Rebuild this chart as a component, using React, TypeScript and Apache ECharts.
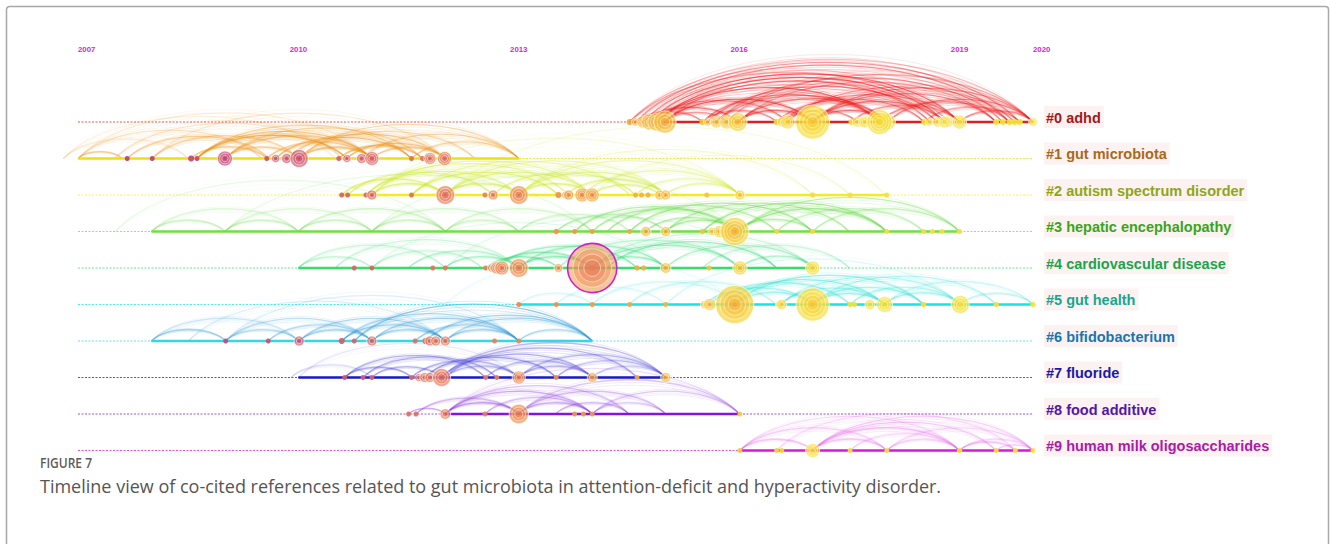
import React, { useEffect, useRef } from "react";
import * as echarts from "echarts";

// ---- axis ----
const yearMin = 2007;
const yearMax = 2020;
const yearLabels = [2007, 2010, 2013, 2016, 2019, 2020];

// ---- clusters ----
const clusterNames = [
  "#0 adhd",
  "#1 gut microbiota",
  "#2 autism spectrum disorder",
  "#3 hepatic encephalopathy",
  "#4 cardiovascular disease",
  "#5 gut health",
  "#6 bifidobacterium",
  "#7 fluoride",
  "#8 food additive",
  "#9 human milk oligosaccharides",
];
const clusterLabelColors = [
  "#a31818", "#a8691a", "#8fa618", "#36a618", "#18a64a",
  "#18a690", "#1876b0", "#1a1aa6", "#5018a8", "#ad18ad",
];
const timelineColors = [
  "#e01f1f", "#f2dc12", "#f4ec1c", "#6ee23c", "#36dd68",
  "#14e6e0", "#36d6e6", "#1818c8", "#8a12dc", "#e012e0",
];
const linkColors = [
  "#ee1a1a", "#ee9014", "#cbe81a", "#5ed83c", "#2ed872",
  "#2ee0d2", "#2c9ad8", "#4a40d8", "#8c3ae0", "#e45ee8",
];

// active span of each cluster: [start year, end year]
const clusterSpans: [number, number][] = [
  [2014.5, 2020.0],
  [2007.0, 2013.0],
  [2010.55, 2018.0],
  [2008.0, 2019.0],
  [2010.0, 2017.05],
  [2013.0, 2020.0],
  [2008.0, 2014.0],
  [2010.0, 2015.0],
  [2012.0, 2016.0],
  [2016.0, 2020.0],
];

// ---- cited references: [publication year, citation count] ----
const nodesC0 = [
  [2014.51, 1.5], [2014.59, 2.6], [2014.69, 5.8], [2014.78, 10], [2014.88, 13], [2014.99, 20],
  [2015.5, 1.5], [2015.57, 2.6], [2015.69, 5.8], [2015.83, 7.8], [2015.98, 14],
  [2016.51, 1.5], [2016.59, 4], [2016.66, 7.8], [2017.0, 46],
  [2017.53, 1.5], [2017.61, 4], [2017.71, 5.8], [2017.91, 25], [2018.02, 10],
  [2018.52, 1.5], [2018.59, 2.6], [2018.7, 4], [2018.8, 5.8], [2018.86, 4], [2019.0, 8],
  [2019.5, 1.5], [2019.59, 1.5], [2019.68, 1.5], [2019.75, 1.5], [2019.82, 1.5], [2020.0, 3],
];
const nodesC1 = [
  [2007.67, 1], [2008.01, 1], [2008.54, 1.5], [2008.62, 1], [2009.0, 9],
  [2009.57, 1], [2009.69, 2.6], [2009.84, 4], [2010.01, 13],
  [2010.55, 1], [2010.66, 2.6], [2010.86, 4], [2011.0, 7.8],
  [2011.54, 1], [2011.69, 1], [2011.79, 5.8], [2011.99, 7.8],
];
const nodesC2 = [
  [2010.59, 1], [2010.67, 1], [2010.92, 1], [2011.0, 4], [2011.54, 1], [2012.0, 14],
  [2012.54, 1], [2012.65, 4], [2013.0, 14], [2013.54, 1.5], [2013.64, 2.6], [2013.68, 4],
  [2013.86, 7.8], [2014.0, 7.8], [2014.59, 1], [2014.67, 1], [2014.76, 1], [2014.92, 4],
  [2015.0, 4], [2015.56, 1], [2016.01, 4], [2017.0, 1], [2017.51, 1], [2018.01, 1],
];
const nodesC3 = [
  [2013.51, 1.2], [2013.76, 1], [2014.0, 1], [2014.51, 1], [2014.73, 4], [2015.0, 4],
  [2015.5, 1], [2015.63, 2.6], [2015.73, 5.8], [2015.83, 8], [2015.94, 32],
  [2016.51, 1], [2017.0, 1], [2018.01, 1], [2018.51, 1], [2018.63, 1], [2018.76, 1], [2019.0, 1.2],
];
const nodesC4 = [
  [2010.76, 1], [2011.0, 1], [2011.83, 1], [2012.0, 1], [2012.55, 1], [2012.63, 2.6],
  [2012.7, 5.8], [2012.77, 7.8], [2013.0, 14], [2013.54, 3], [2014.0, 97],
  [2014.61, 1.2], [2014.7, 1.2], [2015.0, 4.5], [2015.59, 1], [2016.01, 8], [2017.0, 8],
];
const nodesC5 = [
  [2013.0, 1], [2013.51, 1], [2014.0, 1], [2014.51, 1], [2015.0, 1],
  [2015.53, 2.6], [2015.6, 6], [2015.94, 58], [2016.55, 2.6], [2016.58, 4], [2017.0, 44],
  [2017.51, 1.2], [2017.57, 1], [2017.78, 4], [2017.98, 10], [2018.51, 1.2],
  [2019.01, 13], [2019.5, 1.2], [2020.0, 1.2],
];
const nodesC6 = [
  [2009.01, 1], [2009.59, 1], [2010.01, 4], [2010.59, 1.5], [2010.76, 1], [2011.0, 4],
  [2011.59, 1], [2011.73, 1.5], [2011.79, 4], [2011.87, 4], [2012.0, 4],
  [2012.67, 1], [2013.0, 1],
];
const nodesC7 = [
  [2010.63, 1], [2010.88, 1], [2011.0, 1], [2011.54, 1], [2011.64, 2.6], [2011.72, 4],
  [2011.79, 4], [2011.95, 13], [2012.55, 1], [2012.7, 1], [2013.0, 7],
  [2013.51, 1], [2014.0, 4], [2014.61, 1], [2015.0, 4],
];
const nodesC8 = [
  [2011.5, 1], [2011.6, 1], [2012.0, 4.5], [2012.54, 1], [2013.0, 15],
  [2013.76, 1], [2013.88, 1], [2014.0, 1], [2016.01, 1],
];
const nodesC9 = [
  [2016.01, 1], [2016.51, 1], [2016.58, 1], [2017.0, 7.8], [2017.51, 1],
  [2018.01, 1], [2019.0, 1.2], [2019.5, 1], [2019.76, 1], [2020.0, 1],
];
// citation-burst references: [cluster, year]
const burstNodes = [[4, 2014.0]];

// ---- co-citation links: [from year, to year, strength] ----
const linksC0 = [
  [2014.5, 2020.0, 0.35], [2014.59, 2019.82, 0.55], [2014.69, 2019.68, 0.6], [2014.78, 2019.0, 0.75],
  [2014.88, 2018.8, 0.75], [2014.99, 2018.6, 0.6], [2014.88, 2017.91, 0.75], [2014.99, 2017.0, 0.85],
  [2014.78, 2016.66, 0.6], [2014.69, 2015.98, 0.7], [2014.59, 2015.5, 0.5], [2014.99, 2015.83, 0.5],
  [2015.5, 2017.91, 0.6], [2015.57, 2018.7, 0.6], [2015.69, 2019.59, 0.5], [2015.83, 2020.0, 0.45],
  [2015.98, 2017.0, 0.75], [2015.98, 2018.02, 0.65], [2016.51, 2018.52, 0.6], [2016.59, 2019.0, 0.6],
  [2016.66, 2019.75, 0.5], [2017.0, 2018.02, 0.75], [2017.0, 2018.8, 0.7], [2017.0, 2019.5, 0.6],
  [2017.0, 2020.0, 0.55], [2017.53, 2019.0, 0.5], [2017.91, 2019.68, 0.6], [2018.02, 2020.0, 0.6],
  [2018.52, 2019.82, 0.5], [2019.0, 2020.0, 0.55], [2016.59, 2017.61, 0.5], [2015.5, 2016.51, 0.5],
  [2014.51, 2018.86, 0.4], [2015.69, 2018.02, 0.55], [2016.0, 2019.5, 0.45],
];
const linksC1 = [
  [2007.0, 2007.6, 0.5], [2006.8, 2008.5, 0.2], [2007.0, 2009.5, 0.3], [2007.5, 2010.6, 0.3],
  [2007.67, 2009.6, 0.5], [2008.01, 2010.01, 0.45], [2008.54, 2009.57, 0.5], [2008.62, 2010.66, 0.8],
  [2008.62, 2011.0, 0.6], [2008.62, 2011.54, 0.45], [2009.0, 2011.0, 0.55], [2009.0, 2011.69, 0.45],
  [2009.57, 2011.0, 0.5], [2009.69, 2011.54, 0.65], [2009.84, 2011.99, 0.55], [2010.01, 2011.0, 0.6],
  [2010.01, 2013.0, 0.45], [2010.01, 2012.4, 0.4], [2010.55, 2011.69, 0.6], [2010.66, 2011.99, 0.65],
  [2010.86, 2013.0, 0.5], [2011.0, 2011.99, 0.5], [2011.54, 2013.0, 0.45], [2007.0, 2011.0, 0.2],
  [2008.01, 2012.0, 0.25], [2006.8, 2010.5, 0.15], [2009.0, 2010.01, 0.5],
];
const linksC2 = [
  [2010.59, 2012.0, 0.6], [2010.67, 2012.65, 0.55], [2010.92, 2013.0, 0.5], [2010.92, 2013.68, 0.45],
  [2011.0, 2012.0, 0.6], [2011.0, 2014.0, 0.45], [2011.54, 2013.54, 0.6], [2011.54, 2014.51, 0.4],
  [2012.0, 2013.0, 0.6], [2012.0, 2014.0, 0.5], [2012.0, 2015.0, 0.4], [2012.65, 2014.59, 0.5],
  [2013.0, 2014.0, 0.6], [2013.0, 2015.0, 0.5], [2013.0, 2016.01, 0.35], [2013.64, 2015.0, 0.5],
  [2013.86, 2016.01, 0.4], [2014.0, 2014.92, 0.5], [2014.59, 2016.01, 0.4], [2015.0, 2016.01, 0.4],
  [2011.0, 2016.0, 0.2], [2013.0, 2017.0, 0.25], [2012.0, 2018.0, 0.18], [2014.0, 2017.51, 0.2],
];
const linksC3 = [
  [2008.0, 2009.0, 0.35], [2008.0, 2010.0, 0.25], [2009.0, 2010.0, 0.35], [2009.0, 2011.0, 0.25],
  [2010.0, 2011.0, 0.35], [2010.0, 2012.0, 0.35], [2011.0, 2012.0, 0.35], [2011.0, 2013.0, 0.3],
  [2012.0, 2013.0, 0.3], [2012.0, 2014.0, 0.3], [2013.0, 2014.51, 0.3], [2013.51, 2015.0, 0.45],
  [2013.76, 2015.94, 0.55], [2014.0, 2016.0, 0.5], [2014.2, 2016.51, 0.5], [2014.51, 2017.0, 0.6],
  [2014.73, 2015.94, 0.5], [2015.0, 2016.0, 0.5], [2015.0, 2017.5, 0.5], [2015.5, 2018.01, 0.65],
  [2015.94, 2017.0, 0.5], [2016.0, 2018.0, 0.6], [2016.0, 2019.0, 0.5], [2016.51, 2018.51, 0.4],
  [2017.0, 2019.0, 0.4], [2007.5, 2012.0, 0.15], [2009.0, 2014.0, 0.15], [2011.0, 2016.0, 0.15],
];
const linksC4 = [
  [2010.0, 2011.0, 0.3], [2010.0, 2012.0, 0.3], [2010.5, 2013.0, 0.3], [2011.0, 2012.5, 0.3],
  [2011.5, 2013.0, 0.4], [2012.0, 2013.0, 0.45], [2012.55, 2013.54, 0.5], [2012.63, 2014.0, 0.6],
  [2012.7, 2014.61, 0.5], [2013.0, 2014.0, 0.6], [2013.0, 2015.0, 0.5], [2014.2, 2016.51, 0.6],
  [2014.0, 2015.0, 0.5], [2014.0, 2016.01, 0.5], [2015.0, 2017.0, 0.4], [2016.01, 2017.05, 0.4],
  [2014.0, 2017.0, 0.3], [2015.5, 2017.5, 0.3], [2011.0, 2015.0, 0.15], [2012.0, 2016.5, 0.15],
  [2013.54, 2016.0, 0.35],
];
const linksC5 = [
  [2013.0, 2014.0, 0.2], [2013.5, 2015.0, 0.2], [2014.0, 2016.0, 0.25], [2014.5, 2016.5, 0.3],
  [2015.53, 2017.0, 0.5], [2015.6, 2017.51, 0.5], [2015.8, 2017.98, 0.6], [2015.94, 2017.0, 0.5],
  [2015.94, 2018.51, 0.55], [2016.55, 2017.98, 0.5], [2016.58, 2019.01, 0.4], [2017.0, 2017.98, 0.5],
  [2017.0, 2018.51, 0.5], [2017.0, 2019.5, 0.4], [2017.51, 2019.01, 0.4], [2017.98, 2019.01, 0.4],
  [2017.98, 2020.0, 0.3], [2019.01, 2020.0, 0.3], [2015.0, 2019.0, 0.2], [2012.0, 2016.0, 0.12],
];
const linksC6 = [
  [2008.0, 2009.01, 0.5], [2008.0, 2010.0, 0.3], [2009.01, 2010.01, 0.4], [2009.01, 2011.0, 0.4],
  [2009.59, 2011.0, 0.45], [2010.01, 2011.0, 0.45], [2010.01, 2012.0, 0.5], [2010.59, 2012.0, 0.55],
  [2010.59, 2013.0, 0.5], [2010.76, 2014.0, 0.65], [2011.0, 2012.0, 0.5], [2011.0, 2013.0, 0.5],
  [2011.59, 2013.0, 0.5], [2011.73, 2014.0, 0.55], [2012.0, 2013.0, 0.5], [2012.0, 2014.0, 0.45],
  [2013.0, 2014.0, 0.4], [2008.5, 2012.0, 0.2], [2009.0, 2013.0, 0.2],
];
const linksC7 = [
  [2009.9, 2011.0, 0.2], [2010.63, 2011.54, 0.5], [2010.63, 2012.55, 0.5], [2010.88, 2012.7, 0.5],
  [2011.0, 2011.95, 0.45], [2011.54, 2013.0, 0.5], [2011.72, 2013.51, 0.6], [2011.95, 2014.0, 0.55],
  [2012.0, 2014.61, 0.5], [2011.95, 2015.0, 0.45], [2012.55, 2014.0, 0.4], [2013.0, 2014.0, 0.45],
  [2013.0, 2015.0, 0.45], [2013.51, 2015.0, 0.4], [2014.0, 2015.0, 0.3], [2012.0, 2013.0, 0.4],
  [2010.0, 2013.0, 0.15],
];
const linksC8 = [
  [2011.5, 2012.0, 0.4], [2011.6, 2013.0, 0.45], [2012.0, 2013.0, 0.6], [2012.0, 2014.0, 0.5],
  [2012.0, 2014.5, 0.4], [2012.54, 2014.0, 0.4], [2013.0, 2014.0, 0.5], [2013.0, 2015.0, 0.4],
  [2013.0, 2016.01, 0.35], [2013.5, 2014.5, 0.4], [2014.0, 2015.0, 0.3], [2014.0, 2016.01, 0.35],
  [2012.0, 2016.0, 0.2],
];
const linksC9 = [
  [2016.01, 2017.0, 0.4], [2016.01, 2018.01, 0.35], [2016.01, 2019.0, 0.3], [2017.0, 2018.01, 0.4],
  [2017.0, 2019.0, 0.5], [2017.0, 2019.5, 0.4], [2017.0, 2020.0, 0.35], [2017.51, 2019.0, 0.3],
  [2018.01, 2019.0, 0.3], [2018.01, 2020.0, 0.3], [2019.0, 2019.76, 0.4], [2019.0, 2020.0, 0.3],
  [2019.5, 2020.0, 0.3], [2016.51, 2019.76, 0.25],
];

const nodesByCluster = [nodesC0, nodesC1, nodesC2, nodesC3, nodesC4, nodesC5, nodesC6, nodesC7, nodesC8, nodesC9];
const linksByCluster = [linksC0, linksC1, linksC2, linksC3, linksC4, linksC5, linksC6, linksC7, linksC8, linksC9];

// node colour ramp over publication years (older = magenta, newer = yellow)
const rampStops: [number, number[]][] = [
  [2007, [182, 56, 140]], [2008, [194, 66, 130]], [2009, [202, 74, 122]], [2010, [212, 88, 114]],
  [2011, [222, 104, 100]], [2012, [232, 122, 88]], [2013, [240, 142, 76]], [2014, [244, 164, 66]],
  [2015, [246, 190, 60]], [2016, [247, 210, 58]], [2017, [246, 222, 58]], [2020, [245, 228, 60]],
];
function rampColor(y: number, a: number) {
  let c = rampStops[0][1];
  if (y >= rampStops[rampStops.length - 1][0]) c = rampStops[rampStops.length - 1][1];
  else {
    for (let i = 0; i < rampStops.length - 1; i++) {
      const [y0, c0] = rampStops[i];
      const [y1, c1] = rampStops[i + 1];
      if (y >= y0 && y <= y1) {
        const t = (y - y0) / (y1 - y0);
        c = c0.map((v, k) => Math.round(v + (c1[k] - v) * t));
        break;
      }
    }
  }
  return `rgba(${c[0]},${c[1]},${c[2]},${a})`;
}

const FONT = '"Liberation Sans", Arial, sans-serif';

export default function App() {
  const ref = useRef<HTMLDivElement>(null);

  useEffect(() => {
    if (!ref.current) return;
    const chart = echarts.init(ref.current, null, { renderer: "svg" });

    const timelineData = clusterSpans.map((s, i) => [i, s[0], s[1]]);
    const linkData: number[][] = [];
    linksByCluster.forEach((list, row) => list.forEach((l) => linkData.push([row, l[0], l[1], l[2]])));
    const nodeData: number[][] = [];
    nodesByCluster.forEach((list, row) =>
      list.forEach((n) => {
        const burst = burstNodes.some((b) => b[0] === row && Math.abs(b[1] - n[0]) < 0.01) ? 1 : 0;
        nodeData.push([row, n[0], n[1], burst]);
      })
    );
    // draw small nodes first so large ones sit on top
    nodeData.sort((a, b) => a[2] - b[2]);

    const rich: Record<string, any> = {};
    clusterNames.forEach((_, i) => {
      rich["c" + i] = {
        color: clusterLabelColors[i],
        fontSize: 14.5,
        fontWeight: "bold",
        fontFamily: FONT,
        backgroundColor: "rgba(252,232,232,0.55)",
        padding: [4, 3, 3, 2],
      };
    });

    chart.setOption({
      animation: false,
      backgroundColor: "#ffffff",
      grid: { left: 78, right: 297, top: 122, bottom: 93.5, containLabel: false },
      xAxis: {
        type: "value",
        min: yearMin,
        max: yearMax,
        interval: 1,
        position: "top",
        offset: 61,
        axisLine: { show: false },
        axisTick: { show: false },
        splitLine: { show: false },
        axisLabel: {
          margin: 8,
          color: "#cc2acc",
          fontSize: 7.8,
          fontWeight: "bold",
          fontFamily: FONT,
          alignMinLabel: "left",
          alignMaxLabel: "left",
          formatter: (v: number) => (yearLabels.includes(v) ? String(v) : ""),
        },
      },
      yAxis: {
        type: "value",
        min: 0,
        max: 9,
        interval: 1,
        inverse: true,
        position: "right",
        axisLine: { show: false },
        axisTick: { show: false },
        splitLine: { show: false },
        axisLabel: {
          margin: 11,
          // extra bottom padding lifts each label slightly above its timeline
          padding: [0, 0, 10, 0],
          formatter: (v: number) => (clusterNames[v] ? `{c${v}|${clusterNames[v]}}` : ""),
          rich,
        },
      },
      graphic: [
        {
          type: "rect",
          shape: { x: 6.5, y: 6.5, width: 1322, height: 620, r: 3 },
          style: { fill: "none", stroke: "#a8a8a8", lineWidth: 1.5 },
          silent: true,
        },
        {
          type: "text",
          left: 40,
          top: 454,
          scaleX: 0.8,
          style: { text: "FIGURE 7", font: `600 15px "Open Sans"`, fill: "#5c5c5c" },
        },
        {
          type: "text",
          left: 40,
          top: 477,
          style: {
            text: "Timeline view of co-cited references related to gut microbiota in attention-deficit and hyperactivity disorder.",
            font: `18px "Open Sans"`,
            fill: "#555555",
          },
        },
      ],
      series: [
        {
          // co-citation arcs
          type: "custom",
          clip: false,
          silent: true,
          data: linkData,
          encode: { x: [1, 2], y: 0 },
          renderItem: (params: any, api: any) => {
            const row = api.value(0);
            const a = api.value(1);
            const b = api.value(2);
            const s = api.value(3);
            const p1 = api.coord([a, row]);
            const p2 = api.coord([b, row]);
            const span = p2[0] - p1[0];
            const h = span * 0.155;
            const color = linkColors[row];
            const strands = [0.92, 1, 1.08, 0.84];
            return {
              type: "group",
              children: strands.map((k, i) => {
                const cy = p1[1] - (h * k * 4) / 3;
                return {
                  type: "bezierCurve",
                  shape: {
                    x1: p1[0], y1: p1[1], x2: p2[0], y2: p2[1],
                    cpx1: p1[0] + span * 0.2, cpy1: cy,
                    cpx2: p2[0] - span * 0.2, cpy2: cy,
                  },
                  style: {
                    fill: "none",
                    stroke: color,
                    lineWidth: i === 1 ? 1.3 : 0.8,
                    opacity: i === 1 ? s * 0.8 : s * 0.35,
                  },
                };
              }),
            };
          },
          z: 1,
        },
        {
          // cluster timelines
          type: "custom",
          clip: false,
          silent: true,
          data: timelineData,
          encode: { x: [1, 2], y: 0 },
          renderItem: (params: any, api: any) => {
            const row = api.value(0);
            const s = api.value(1);
            const e = api.value(2);
            const a0 = api.coord([yearMin, row]);
            const a1 = api.coord([yearMax, row]);
            const s0 = api.coord([s, row]);
            const s1 = api.coord([e, row]);
            const color = timelineColors[row];
            return {
              type: "group",
              children: [
                {
                  type: "line",
                  shape: { x1: a0[0], y1: a0[1], x2: a1[0], y2: a1[1] },
                  style: { stroke: color, lineWidth: 1, lineDash: [2, 1.5], opacity: 0.75 },
                },
                {
                  type: "line",
                  shape: { x1: s0[0], y1: s0[1], x2: s1[0], y2: s1[1] },
                  style: { stroke: color, lineWidth: 2.6 },
                },
              ],
            };
          },
          z: 2,
        },
        {
          // cited references, drawn with citation tree rings
          type: "custom",
          clip: false,
          silent: true,
          data: nodeData,
          encode: { x: 1, y: 0 },
          renderItem: (params: any, api: any) => {
            const row = api.value(0);
            const year = api.value(1);
            const cites = api.value(2);
            const burst = api.value(3);
            const p = api.coord([year, row]);
            const r = 2.5 * Math.sqrt(cites);
            const children: any[] = [];
            if (r <= 3.2) {
              children.push({
                type: "circle",
                shape: { cx: p[0], cy: p[1], r },
                style: { fill: rampColor(year - 0.3, 0.92) },
              });
            } else {
              children.push({
                type: "circle",
                shape: { cx: p[0], cy: p[1], r },
                style: {
                  fill: rampColor(year + (burst ? -0.6 : 0.15), burst ? 0.55 : 0.7),
                  stroke: burst ? "#d21ed2" : "rgba(255,255,255,0.85)",
                  lineWidth: burst ? 1.6 : 0.8,
                },
              });
              const rings = r > 12 ? [0.78, 0.56, 0.34] : r > 6 ? [0.7, 0.42] : [0.55];
              rings.forEach((k, i) => {
                children.push({
                  type: "circle",
                  shape: { cx: p[0], cy: p[1], r: r * k },
                  style: {
                    fill: rampColor(year - 0.5 * (i + 1) - (burst ? 0.8 : 0), 0.42),
                    stroke: "rgba(255,255,255,0.7)",
                    lineWidth: 0.7,
                  },
                });
              });
              children.push({
                type: "circle",
                shape: { cx: p[0], cy: p[1], r: Math.max(1.2, r * 0.12) },
                style: { fill: rampColor(year - 2, 0.7) },
              });
            }
            return { type: "group", children };
          },
          z: 3,
        },
      ],
    });

    return () => chart.dispose();
  }, []);

  return (
    <div
      ref={ref}
      style={{ position: "absolute", left: 0, top: 0, width: 1330, height: 544, background: "#fff" }}
    />
  );
}
